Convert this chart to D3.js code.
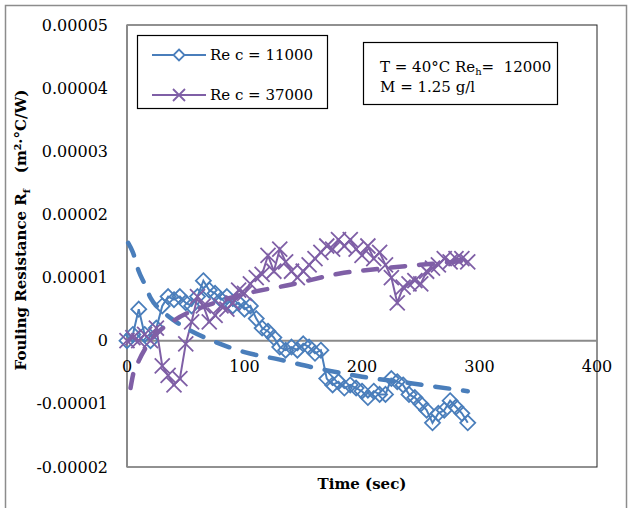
<!DOCTYPE html>
<html>
<head>
<meta charset="utf-8">
<script src="https://cdn.jsdelivr.net/npm/d3@7"></script>
<style>
  body { margin: 0; background: #fff; }
  svg text { font-family: "DejaVu Serif", serif; fill: #000; }
</style>
</head>
<body>
<div id="chart"></div>
<script>
// Fouling resistance vs time, two coolant Reynolds numbers (values in 1e-5 m2.C/W)
const timeSec = [0,5,10,15,20,25,30,35,40,45,50,55,60,65,70,75,80,85,90,95,100,105,110,115,120,125,130,135,140,145,150,155,160,165,170,175,180,185,190,195,200,205,210,215,220,225,230,235,240,245,250,255,260,265,270,275,280,285,290];
const re11000 = [0,0.1,0.5,0.1,0,0.2,0.55,0.7,0.65,0.7,0.6,0.55,0.7,0.95,0.8,0.75,0.65,0.7,0.55,0.6,0.5,0.55,0.35,0.2,0.15,0.05,-0.1,-0.15,-0.1,-0.15,-0.05,-0.1,-0.2,-0.15,-0.6,-0.7,-0.65,-0.75,-0.7,-0.75,-0.8,-0.9,-0.8,-0.85,-0.85,-0.6,-0.65,-0.7,-0.85,-0.9,-1.0,-1.1,-1.3,-1.15,-1.1,-0.95,-1.05,-1.15,-1.3];
const re37000 = [0,0.05,0,0.1,0,0.2,-0.4,-0.55,-0.7,-0.6,-0.05,0.3,0.7,0.55,0.3,0.4,0.55,0.5,0.6,0.8,0.75,0.9,1.0,1.05,1.35,1.1,1.45,1.25,1.1,1.0,1.1,1.2,1.3,1.4,1.5,1.45,1.6,1.5,1.6,1.45,1.35,1.5,1.3,1.4,1.2,1.0,0.6,0.85,0.9,0.95,0.9,1.1,1.15,1.2,1.3,1.25,1.3,1.3,1.25];

// trendlines
const trendBlueT = [1,5,10,15,20,30,40,55,70,100,130,160,200,240,290];
const trendBlueV = [1.55,1.4,1.1,0.9,0.68,0.47,0.32,0.15,0.02,-0.18,-0.3,-0.43,-0.57,-0.67,-0.8];
const trendPurpleT = [3,5,10,20,40,70,100,140,180,220,260,290];
const trendPurpleV = [-0.75,-0.55,-0.32,0,0.32,0.57,0.74,0.89,1.06,1.15,1.22,1.27];

const yTicks = [-0.00002,-0.00001,0,0.00001,0.00002,0.00003,0.00004,0.00005];
const xTicks = [0,100,200,300,400];
const seriesNames = ["Re c = 11000", "Re c = 37000"];

const W = 632, H = 508;
const blue = "#4a7ebb", purple = "#7f5fa6";

const svg = d3.select("#chart").append("svg").attr("width", W).attr("height", H);

// outer frame
svg.append("rect").attr("x", 5.5).attr("y", 5.5).attr("width", 621).attr("height", 510)
  .attr("fill", "none").attr("stroke", "#8c8c8c").attr("stroke-width", 1.5);

const x = d3.scaleLinear().domain([0, 400]).range([127, 597]);
const y = d3.scaleLinear().domain([-0.00002, 0.00005]).range([467, 25]);

// plot area border
svg.append("rect").attr("x", x(0)).attr("y", y(0.00005))
  .attr("width", x(400) - x(0)).attr("height", y(-0.00002) - y(0.00005))
  .attr("fill", "none").attr("stroke", "#222").attr("stroke-width", 1);

// axes (gray lines through zero)
svg.append("line").attr("x1", x(0)).attr("x2", x(400)).attr("y1", y(0)).attr("y2", y(0))
  .attr("stroke", "#8a8a8a").attr("stroke-width", 2);
svg.append("line").attr("x1", x(0)).attr("x2", x(0)).attr("y1", y(0.00005)).attr("y2", y(-0.00002))
  .attr("stroke", "#8a8a8a").attr("stroke-width", 2);

// y tick labels
svg.append("g").selectAll("text").data(yTicks).join("text")
  .attr("x", 108).attr("y", d => y(d)).attr("dy", "0.35em")
  .attr("text-anchor", "end").attr("font-size", "16px")
  .text(d => d === 0 ? "0" : d.toFixed(5));

// x tick labels sit just under the zero line
svg.append("g").selectAll("text").data(xTicks).join("text")
  .attr("x", d => x(d)).attr("y", y(0) + 31)
  .attr("text-anchor", "middle").attr("font-size", "16px")
  .text(d => d);

// axis titles
svg.append("text").attr("x", 362).attr("y", 489).attr("text-anchor", "middle")
  .attr("font-size", "15px").attr("font-weight", "bold").text("Time (sec)");

const yl = svg.append("text").attr("transform", "translate(26,230) rotate(-90)")
  .attr("text-anchor", "middle").attr("font-size", "15px").attr("font-weight", "bold");
yl.append("tspan").text("Fouling Resistance  R");
yl.append("tspan").attr("font-size", "10px").attr("dy", 4).text("f");
yl.append("tspan").attr("dy", -4).text("   (m²·°C/W)").attr("xml:space", "preserve");

const seriesA = timeSec.map((t, i) => [t, re11000[i] * 1e-5]);
const seriesB = timeSec.map((t, i) => [t, re37000[i] * 1e-5]);
const trendA = trendBlueT.map((t, i) => [t, trendBlueV[i] * 1e-5]);
const trendB = trendPurpleT.map((t, i) => [t, trendPurpleV[i] * 1e-5]);

const line = d3.line().x(d => x(d[0])).y(d => y(d[1]));
const smooth = d3.line().x(d => x(d[0])).y(d => y(d[1])).curve(d3.curveMonotoneX);

const diamond = r => `M0,${-r}L${r},0L0,${r}L${-r},0Z`;
const cross = r => `M${-r},${-r}L${r},${r}M${-r},${r}L${r},${-r}`;

function drawSeries(data, color, marker) {
  svg.append("path").datum(data).attr("d", line)
    .attr("fill", "none").attr("stroke", color).attr("stroke-width", 2);
  svg.append("g").selectAll("path").data(data).join("path")
    .attr("transform", d => `translate(${x(d[0])},${y(d[1])})`)
    .attr("d", marker).attr("fill", "none").attr("stroke", color).attr("stroke-width", 1.8);
}

drawSeries(seriesA, blue, diamond(7.5));
drawSeries(seriesB, purple, cross(7.5));

function drawTrend(data, color) {
  svg.append("path").datum(data).attr("d", smooth)
    .attr("fill", "none").attr("stroke", color).attr("stroke-width", 4.5)
    .attr("stroke-dasharray", "14,14").attr("stroke-linecap", "round");
}
drawTrend(trendA, blue);
drawTrend(trendB, purple);

// legend
const lg = svg.append("g");
lg.append("rect").attr("x", 137.5).attr("y", 35.5).attr("width", 190).attr("height", 73)
  .attr("fill", "#fff").attr("stroke", "#000").attr("stroke-width", 1.2);
[[blue, diamond(5.5), 55], [purple, cross(6), 95]].forEach((e, i) => {
  lg.append("line").attr("x1", 152).attr("x2", 206).attr("y1", e[2]).attr("y2", e[2])
    .attr("stroke", e[0]).attr("stroke-width", 2);
  lg.append("path").attr("transform", `translate(179,${e[2]})`).attr("d", e[1])
    .attr("fill", i === 0 ? "#fff" : "none").attr("stroke", e[0]).attr("stroke-width", 1.8);
  lg.append("text").attr("x", 210).attr("y", e[2]).attr("dy", "0.35em")
    .attr("font-size", "15px").text(seriesNames[i]);
});

// condition box
const cb = svg.append("g");
cb.append("rect").attr("x", 363.5).attr("y", 42.5).attr("width", 194).attr("height", 62)
  .attr("fill", "#fff").attr("stroke", "#000").attr("stroke-width", 1.2);
const t1 = cb.append("text").attr("x", 380).attr("y", 72).attr("font-size", "15px");
t1.append("tspan").text("T = 40°C Re");
t1.append("tspan").attr("font-size", "10px").attr("dy", 3).text("h");
t1.append("tspan").attr("dy", -3).attr("xml:space", "preserve").text("=  12000");
cb.append("text").attr("x", 380).attr("y", 92).attr("font-size", "15px").text("M = 1.25 g/l");
</script>
</body>
</html>
